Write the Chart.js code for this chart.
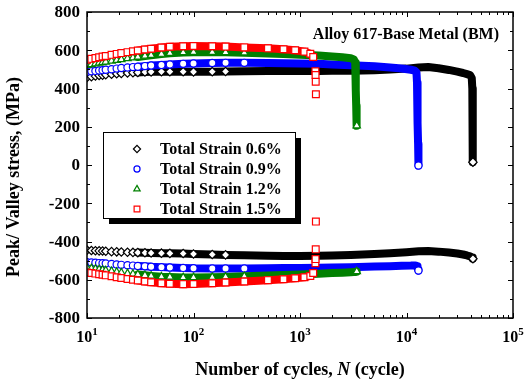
<!DOCTYPE html>
<html>
<head>
<meta charset="utf-8">
<title>Alloy 617 - peak / valley stress</title>
<script src="https://cdn.jsdelivr.net/npm/chart.js@4/dist/chart.umd.min.js"></script>
<style>
  html, body { margin: 0; padding: 0; background: #fff; }
  #c { display: block; }
</style>
</head>
<body>
<canvas id="c" width="525" height="385"></canvas>
<script>
/* Peak / valley stress vs. cycles, Alloy 617 base metal */

const X_TICKS = [10, 100, 1000, 10000, 100000];
const X_TICK_EXP = ["1", "2", "3", "4", "5"];
const Y_TICKS = [-800, -600, -400, -200, 0, 200, 400, 600, 800];

const LABELS = ["Total Strain 0.6%", "Total Strain 0.9%", "Total Strain 1.2%", "Total Strain 1.5%"];

// 0.6 %
const cycles06 = [10, 11, 12, 13, 14, 15, 17, 19, 21, 24, 27, 30, 35, 40, 50, 60, 80, 100,
  150, 200, 300, 500, 700, 1000, 1500, 2000, 3000, 5000, 7000, 10000, 13000, 16000, 20000,
  25000, 30000, 34000, 37000, 39500, 41000, 41500, 41700, 41850, 41950, 42050];
const peak06 = [458, 462, 465, 468, 470, 472, 475, 477, 479, 481, 483, 484, 486, 487, 488, 488, 488, 487,
  488, 489, 490, 491, 492, 492, 492, 493, 493, 496, 499, 504, 510, 512, 506,
  497, 488, 481, 475, 470, 455, 400, 300, 190, 90, 15];
const valley06 = [-445, -447, -448, -449, -450, -451, -453, -454, -455, -456, -457, -458, -459, -460, -461, -462, -463, -465,
  -468, -470, -472, -475, -476, -476, -475, -473, -470, -465, -461, -456, -451, -450, -453,
  -458, -463, -468, -473, -478, -482, -484, -486, -487, -488, -490];

// 0.9 %
const cycles09 = [10, 11, 12, 13, 14, 15, 17, 19, 21, 24, 27, 30, 35, 40, 50, 60, 80, 100,
  150, 200, 300, 500, 700, 1000, 1500, 2000, 3000, 5000, 7000, 9000, 11000, 12000,
  12400, 12550, 12650, 12750, 12850, 12950];
const peak09 = [488, 490, 492, 494, 496, 498, 501, 504, 507, 510, 512, 514, 517, 520, 523, 526, 529, 531,
  533, 534, 534, 533, 532, 531, 529, 526, 522, 516, 510, 505, 498, 493,
  485, 430, 330, 220, 110, -3];
const valley09 = [-508, -510, -511, -513, -514, -515, -517, -520, -522, -524, -526, -528, -530, -532, -534, -536, -538, -540,
  -541, -541, -541, -540, -539, -538, -537, -536, -534, -531, -529, -527, -526, -525,
  -526, -530, -535, -540, -546, -552];

// 1.2 %
const cycles12 = [10, 11, 12, 13, 14, 15, 17, 19, 21, 24, 27, 30, 35, 40, 50, 60, 80, 100,
  150, 200, 300, 500, 700, 1000, 1500, 2000, 2500, 3000, 3200, 3300,
  3330, 3350, 3370, 3390, 3410];
const peak12 = [522, 526, 530, 533, 536, 539, 544, 548, 552, 557, 561, 565, 570, 574, 580, 584, 588, 590,
  590, 589, 587, 583, 580, 577, 572, 567, 563, 558, 552, 535,
  470, 390, 310, 245, 205];
const valley12 = [-538, -541, -544, -547, -549, -552, -556, -560, -563, -567, -570, -573, -577, -580, -584, -586, -588, -588,
  -587, -585, -582, -578, -575, -572, -568, -565, -563, -561, -560, -560,
  -559, -559, -558, -558, -557];

// 1.5 %
const cycles15 = [10, 11, 12, 13, 14, 15, 17, 19, 21, 24, 27, 30, 35, 40, 50, 60, 80, 100,
  150, 200, 300, 500, 700, 900, 1100, 1250, 1330, 1395, 1400, 1405, 1410];
const peak15 = [550, 555, 559, 563, 567, 570, 576, 581, 585, 590, 595, 599, 604, 608, 614, 618, 621, 622,
  621, 619, 615, 610, 605, 600, 593, 582, 565, 490, 470, 435, 370];
const valley15 = [-562, -565, -568, -571, -574, -577, -582, -587, -591, -596, -600, -604, -609, -613, -618, -621, -623, -622,
  -618, -614, -609, -602, -597, -592, -587, -580, -565, -514, -492, -441, -296];

const BLACK = "#000000", BLUE = "#0000ff", GREEN = "#008000", RED = "#ff0000";
const SERIF = '"Liberation Serif", "Times New Roman", serif';

/* ---------- datasets ---------- */
// dense part of each record is drawn as a thick band, sparse part as open markers
function series(label, cycles, vals, s) {
  const last = cycles.length - 1;
  return {
    label,
    order: s.order,
    data: cycles.map((c, i) => ({ x: c, y: vals[i] })),
    showLine: true,
    borderColor: s.color,
    borderWidth: 8,
    borderJoinStyle: "round",
    borderCapStyle: "round",
    tension: 0,
    segment: {
      borderColor: (g) => (g.p0.parsed.x < s.bandFrom || g.p1.parsed.x > s.bandTo) ? "rgba(0,0,0,0)" : undefined,
    },
    pointStyle: s.style,
    pointRadius: (c) => (cycles[c.dataIndex] <= s.markUntil || c.dataIndex === last) ? s.radius : 0,
    pointHoverRadius: 0,
    pointBorderColor: s.color,
    pointBackgroundColor: "#fff",
    pointBorderWidth: 1.2,
  };
}

const S06 = { color: BLACK, style: "rectRot", radius: 4.2, markUntil: 200, bandFrom: 30, bandTo: 1e9, order: 3 };
const S09 = { color: BLUE, style: "circle", radius: 3.6, markUntil: 300, bandFrom: 30, bandTo: 1e9, order: 2 };
const S12 = { color: GREEN, style: "triangle", radius: 4.3, markUntil: 300, bandFrom: 30, bandTo: 1e9, order: 1 };
const S15 = { color: RED, style: "rect", radius: 4.8, markUntil: 1e9, bandFrom: 30, bandTo: 1340, order: 0 };
const STYLES = [S06, S09, S12, S15];

const datasets = [
  series(LABELS[3] + " peak", cycles15, peak15, S15),
  series(LABELS[3] + " valley", cycles15, valley15, S15),
  series(LABELS[1] + " peak", cycles09, peak09, S09),
  series(LABELS[1] + " valley", cycles09, valley09, S09),
  series(LABELS[2] + " peak", cycles12, peak12, S12),
  series(LABELS[2] + " valley", cycles12, valley12, S12),
  series(LABELS[0] + " peak", cycles06, peak06, S06),
  series(LABELS[0] + " valley", cycles06, valley06, S06),
];

/* ---------- frame, ticks, texts, legend ---------- */
const deco = {
  id: "deco",
  afterDatasetsDraw(chart) {
    const { ctx, chartArea: a, scales: { x, y } } = chart;
    ctx.save();

    // inward ticks on all four sides
    ctx.strokeStyle = "#000";
    ctx.lineWidth = 1;
    ctx.beginPath();
    const hTick = (py, len) => {
      py = Math.round(py) + 0.5;
      ctx.moveTo(a.left, py); ctx.lineTo(a.left + len, py);
      ctx.moveTo(a.right, py); ctx.lineTo(a.right - len, py);
    };
    const vTick = (px, len) => {
      px = Math.round(px) + 0.5;
      ctx.moveTo(px, a.bottom); ctx.lineTo(px, a.bottom - len);
      ctx.moveTo(px, a.top); ctx.lineTo(px, a.top + len);
    };
    Y_TICKS.forEach((v, i) => {
      hTick(y.getPixelForValue(v), 5);
      if (i < Y_TICKS.length - 1) hTick(y.getPixelForValue((v + Y_TICKS[i + 1]) / 2), 3);
    });
    X_TICKS.forEach((d, i) => {
      vTick(x.getPixelForValue(d), 5);
      if (i < X_TICKS.length - 1) for (let k = 2; k <= 9; k++) vTick(x.getPixelForValue(d * k), 3);
    });
    ctx.stroke();

    ctx.lineWidth = 1.5;
    ctx.strokeRect(a.left, a.top, a.right - a.left, a.bottom - a.top);

    // tick labels
    ctx.fillStyle = "#000";
    ctx.font = "bold 17px " + SERIF;
    ctx.textAlign = "right";
    ctx.textBaseline = "middle";
    Y_TICKS.forEach((v) => ctx.fillText(String(v), a.left - 7, y.getPixelForValue(v) + 1));

    ctx.textBaseline = "alphabetic";
    ctx.textAlign = "left";
    X_TICKS.forEach((d, i) => {
      const px = x.getPixelForValue(d);
      ctx.font = "bold 16px " + SERIF;
      const wb = ctx.measureText("10").width;
      ctx.font = "bold 11px " + SERIF;
      const we = ctx.measureText(X_TICK_EXP[i]).width;
      const x0 = px - (wb + we) / 2;
      ctx.font = "bold 16px " + SERIF;
      ctx.fillText("10", x0, 342);
      ctx.font = "bold 11px " + SERIF;
      ctx.fillText(X_TICK_EXP[i], x0 + wb, 335);
    });

    // axis titles
    const parts = [["Number of cycles, ", "bold"], ["N", "italic bold"], [" (cycle)", "bold"]];
    let total = 0;
    parts.forEach((p) => { ctx.font = p[1] + " 18px " + SERIF; total += ctx.measureText(p[0]).width; });
    let cx = 300 - total / 2;
    parts.forEach((p) => {
      ctx.font = p[1] + " 18px " + SERIF;
      ctx.fillText(p[0], cx, 375);
      cx += ctx.measureText(p[0]).width;
    });

    ctx.save();
    ctx.translate(19, 177);
    ctx.rotate(-Math.PI / 2);
    ctx.textAlign = "center";
    ctx.font = "bold 18px " + SERIF;
    ctx.fillText("Peak/ Valley stress, (MPa)", 0, 0);
    ctx.restore();

    // plot label
    ctx.textAlign = "right";
    ctx.font = "bold 16px " + SERIF;
    ctx.fillText("Alloy 617-Base Metal (BM)", 499, 39);

    // legend box with drop shadow
    const L = { x: 103, y: 132, w: 192, h: 86 };
    ctx.fillStyle = "#000";
    ctx.fillRect(L.x + 6, L.y + 6, L.w, L.h);
    ctx.fillStyle = "#fff";
    ctx.fillRect(L.x, L.y, L.w, L.h);
    ctx.lineWidth = 1;
    ctx.strokeStyle = "#000";
    ctx.strokeRect(L.x + 0.5, L.y + 0.5, L.w, L.h);

    ctx.textAlign = "left";
    ctx.textBaseline = "middle";
    LABELS.forEach((t, i) => {
      const s = STYLES[i];
      const ry = L.y + 17 + i * 20;
      ctx.fillStyle = "#fff";
      ctx.strokeStyle = s.color;
      ctx.lineWidth = 1.2;
      Chart.helpers.drawPoint(ctx, { pointStyle: s.style, radius: s.radius * 0.85, borderWidth: 1.2, rotation: 0 }, 137, ry);
      ctx.fillStyle = "#000";
      ctx.font = "bold 16px " + SERIF;
      ctx.fillText(t, 160, ry + 1);
    });

    ctx.restore();
  },
};

new Chart(document.getElementById("c"), {
  type: "line",
  data: { datasets },
  options: {
    responsive: false,
    devicePixelRatio: 1,
    animation: false,
    layout: { padding: { left: 87, right: 12, top: 12, bottom: 67 } },
    plugins: { legend: { display: false }, tooltip: { enabled: false } },
    scales: {
      x: { type: "logarithmic", min: 10, max: 100000, display: false },
      y: { type: "linear", min: -800, max: 800, display: false },
    },
  },
  plugins: [deco],
});
</script>
</body>
</html>
